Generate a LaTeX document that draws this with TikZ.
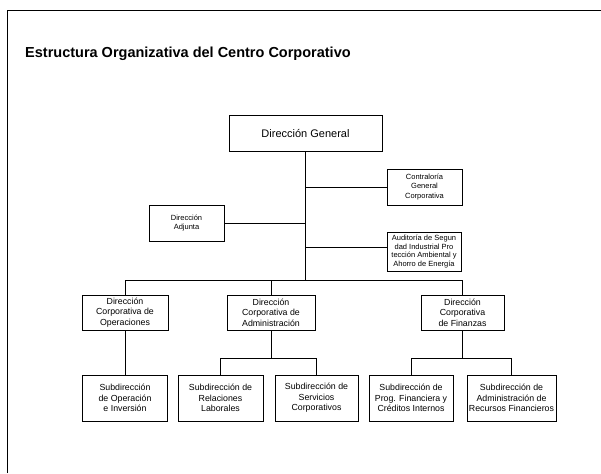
\documentclass[tikz,border=0pt]{standalone}
\usepackage{fontspec}
\setmainfont{Liberation Sans}
\begin{document}
\begin{tikzpicture}[x=1pt,y=-1pt,
  box/.style={draw, line width=1pt, inner sep=0pt, align=center, font=\fontsize{8.8}{10.4}\selectfont},
  sbox/.style={draw, line width=1pt, inner sep=0pt, align=center, font=\fontsize{7.5}{9.2}\selectfont},
  conn/.style={line width=1pt}]
\useasboundingbox (0,0) rectangle (601,473);
% frame
\draw[line width=1pt] (7,473) -- (7,11) -- (601,11);
% title
\node[anchor=base west, inner sep=0pt, font=\bfseries\fontsize{14.5}{17}\selectfont] (title) at (25,57.5) {Estructura Organizativa del Centro Corporativo};
% top
\node[box, minimum width=153pt, minimum height=35pt, font=\fontsize{11}{13}\selectfont] (dg) at (305.5,133.5) {Dirección General};
\node[sbox, minimum width=75pt, minimum height=36pt] (cgc) at (424.5,187) {Contraloría\\General\\Corporativa};
\node[sbox, minimum width=75pt, minimum height=36pt] (da) at (186.5,223) {Dirección\\Adjunta};
\node[sbox, minimum width=74pt, minimum height=39pt, font=\fontsize{7.5}{8.8}\selectfont] (aud) at (424,251.5) {Auditoría de Segun\\dad Industrial Pro\\tección Ambiental y\\Ahorro de Energía};
% level 3
\node[box, minimum width=86pt, minimum height=35pt] (dco) at (125,312.5) {Dirección\\Corporativa de\\Operaciones};
\node[box, minimum width=88pt, minimum height=35pt] (dca) at (271,312.5) {Dirección\\Corporativa de\\Administración};
\node[box, minimum width=83pt, minimum height=35pt] (dcf) at (462.5,312.5) {Dirección\\Corporativa\\de Finanzas};
% level 4
\node[box, minimum width=85pt, minimum height=46pt] (soi) at (125,398) {Subdirección\\de Operación\\e Inversión};
\node[box, minimum width=85pt, minimum height=46pt] (srl) at (220.5,398) {Subdirección de\\Relaciones\\Laborales};
\node[box, minimum width=83pt, minimum height=46pt] (ssc) at (316.5,398) {Subdirección de\\Servicios\\Corporativos};
\node[box, minimum width=84pt, minimum height=46pt] (spf) at (411,398) {Subdirección de\\Prog. Financiera y\\Créditos Internos};
\node[box, minimum width=89pt, minimum height=46pt] (sar) at (511.5,398) {Subdirección de\\Administración de\\Recursos Financieros};
% connectors
\coordinate (bus) at (0,280);
\coordinate (bus2) at (0,358);
\coordinate (audc) at (387,247);
\draw[conn] (dg.south) -- (dg.south |- bus);
\draw[conn] (cgc.west) -- (dg.south |- cgc.west);
\draw[conn] (da.east) -- (dg.south |- da.east);
\draw[conn] (audc) -- (dg.south |- audc);
\draw[conn] (dco.north) -- (dco.north |- bus) -- (dcf.north |- bus) -- (dcf.north);
\draw[conn] (dca.north) -- (dca.north |- bus);
\draw[conn] (dco.south) -- (soi.north);
\draw[conn] (dca.south) -- (dca.south |- bus2);
\draw[conn] (srl.north) -- (srl.north |- bus2) -- (ssc.north |- bus2) -- (ssc.north);
\draw[conn] (dcf.south) -- (dcf.south |- bus2);
\draw[conn] (spf.north) -- (spf.north |- bus2) -- (sar.north |- bus2) -- (sar.north);
\end{tikzpicture}
\end{document}
